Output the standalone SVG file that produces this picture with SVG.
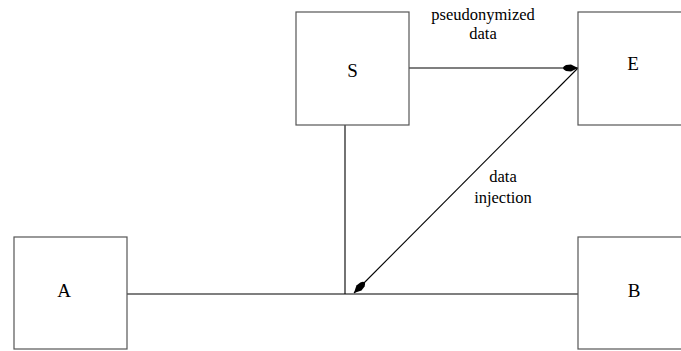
<svg xmlns="http://www.w3.org/2000/svg" width="681" height="351" viewBox="0 0 681 351">
  <style>
    .box { fill: #ffffff; stroke: #555555; stroke-width: 1.2; }
    .lbl { font-family: "Liberation Serif", "Times New Roman", serif; font-size: 19px; fill: #000; text-anchor: middle; }
    .edge { font-family: "Liberation Serif", "Times New Roman", serif; font-size: 16.5px; fill: #000; text-anchor: middle; }
    .wire { fill: none; stroke: #000; stroke-width: 1.1; }
  </style>
  <defs>
    <!-- solid pointer with a rounded tail -->
    <marker id="kite" viewBox="-16 -5 17 10" refX="0" refY="0" markerWidth="17" markerHeight="10" markerUnits="userSpaceOnUse" orient="auto">
      <path d="M0,0 L-7,-3.6 L-12,-3 Q-15,-1.5 -15,0 Q-15,1.5 -12,3 L-7,3.6 Z" fill="#000"/>
    </marker>
  </defs>
  <rect width="681" height="351" fill="#ffffff"/>

  <g id="connectors">
    <line class="wire" x1="409" y1="68" x2="578" y2="68" marker-end="url(#kite)"/>
    <line class="wire" x1="345" y1="125" x2="345" y2="294"/>
    <line class="wire" x1="127" y1="294" x2="578" y2="294"/>
    <line class="wire" x1="578" y1="68" x2="354" y2="293" marker-end="url(#kite)"/>
    <text class="edge" x="483" y="20">pseudonymized</text>
    <text class="edge" x="483" y="39">data</text>
    <text class="edge" x="503" y="182">data</text>
    <text class="edge" x="503" y="203">injection</text>
  </g>

  <g id="node-S">
    <rect class="box" x="296" y="12" width="113" height="113"/>
    <text class="lbl" x="352.5" y="77">S</text>
  </g>
  <g id="node-E">
    <rect class="box" x="578" y="12" width="113" height="113"/>
    <text class="lbl" x="633" y="70">E</text>
  </g>
  <g id="node-A">
    <rect class="box" x="14" y="237" width="113" height="112"/>
    <text class="lbl" x="64" y="297">A</text>
  </g>
  <g id="node-B">
    <rect class="box" x="578" y="237" width="113" height="112"/>
    <text class="lbl" x="634" y="297">B</text>
  </g>
</svg>
